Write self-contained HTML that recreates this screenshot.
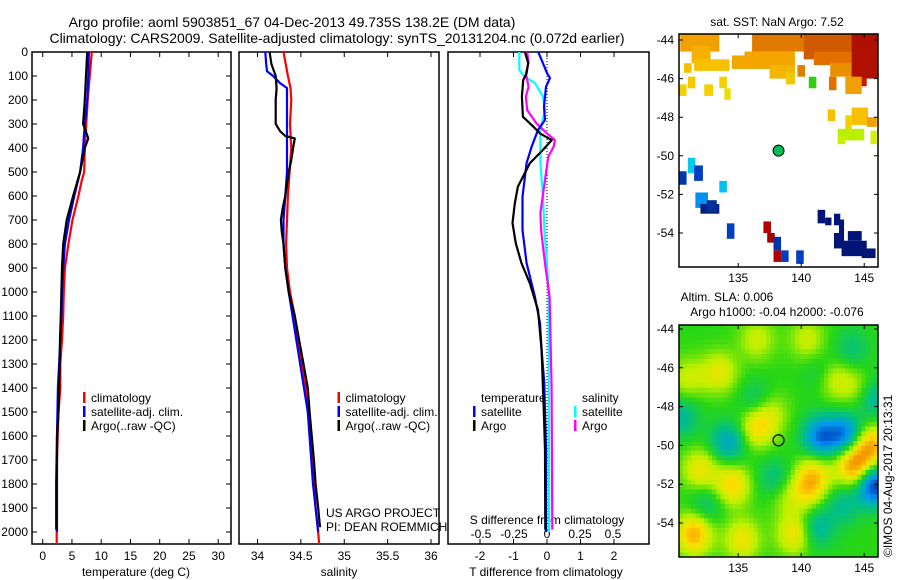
<!DOCTYPE html>
<html><head><meta charset="utf-8"><style>
html,body{margin:0;padding:0;background:#fff;}
svg{display:block;font-family:"Liberation Sans",sans-serif;}
</style></head><body>
<svg id="c" width="900" height="580" viewBox="0 0 900 580" xmlns="http://www.w3.org/2000/svg">
<text x="292" y="27" font-size="14" text-anchor="middle">Argo profile: aoml 5903851_67 04-Dec-2013 49.735S 138.2E (DM data)</text>
<text x="337" y="43" font-size="14" text-anchor="middle">Climatology: CARS2009. Satellite-adjusted climatology: synTS_20131204.nc (0.072d earlier)</text>
<text x="777" y="26" font-size="12" text-anchor="middle">sat. SST: NaN Argo: 7.52</text>
<text x="727" y="301" font-size="12" text-anchor="middle">Altim. SLA: 0.006</text>
<text x="777" y="316" font-size="12" text-anchor="middle">Argo h1000: -0.04 h2000: -0.076</text>
<text x="0" y="0" font-size="12" transform="translate(892,557) rotate(-90)">©IMOS 04-Aug-2017 20:13:31</text>
<text x="136" y="576" font-size="12" text-anchor="middle">temperature (deg C)</text>
<text x="339" y="576" font-size="12" text-anchor="middle">salinity</text>
<text x="546" y="576" font-size="12" text-anchor="middle">T difference from climatology</text>
<text x="547" y="524" font-size="12" text-anchor="middle">S difference from climatology</text>
<text x="326" y="517" font-size="12">US ARGO PROJECT</text>
<text x="326" y="531" font-size="12">PI: DEAN ROEMMICH</text>
</svg>
<script>
// ---- data: depths (m) ----
const tClimD=[0,200,400,500,533,600,700,800,900,1000,1100,1200,1300,1400,1500,1700,2000,2050];
const tClimV=[8.4,7.7,7.2,7.1,6.7,6.1,5.1,4.4,3.8,3.6,3.5,3.3,3.0,3.0,2.7,2.45,2.4,2.4];
const tSatD=[0,100,200,300,400,500,600,700,800,900,1000,1100,1200,1400,1600,2000];
const tSatV=[7.9,7.8,7.6,7.2,6.9,6.4,5.4,4.5,3.8,3.5,3.3,3.2,3.0,2.6,2.45,2.45];
const tArgoD=[0,100,200,300,360,400,500,533,600,700,800,900,1000,1100,1200,1300,1500,1600,1800,1990];
const tArgoV=[7.6,7.4,7.2,6.9,7.8,7.2,6.4,6.0,5.2,4.1,3.5,3.3,3.2,3.1,2.95,2.9,2.7,2.45,2.3,2.3];
const sClimD=[0,100,150,200,300,400,500,600,700,800,900,1000,1100,1200,1300,1400,1500,1600,1700,1800,1900,2000,2050];
const sClimV=[34.30,34.35,34.38,34.39,34.375,34.39,34.37,34.35,34.34,34.33,34.34,34.375,34.43,34.47,34.51,34.56,34.59,34.62,34.64,34.65,34.67,34.70,34.71];
const sSatD=[0,50,80,100,130,150,200,300,500,600,700,800,900,1000,1500,1800,2000];
const sSatV=[34.09,34.10,34.11,34.18,34.26,34.34,34.34,34.34,34.34,34.32,34.30,34.30,34.32,34.36,34.58,34.64,34.70];
const sArgoD=[0,50,80,100,150,200,300,330,350,360,400,450,500,550,600,650,700,750,800,900,1000,1100,1200,1300,1400,1500,1700,1800,1900,1980];
const sArgoV=[34.14,34.16,34.19,34.21,34.22,34.21,34.21,34.26,34.32,34.43,34.41,34.39,34.36,34.34,34.32,34.29,34.27,34.28,34.30,34.32,34.36,34.43,34.48,34.53,34.58,34.60,34.65,34.67,34.70,34.72];
const dTSatD=[0,88,108,145,228,283,325,395,463,603,742,880,1020,1130,1242,1379,1658,2000];
const dTSatV=[-0.26,0,0.09,-0.03,-0.09,-0.06,-0.27,-0.46,-0.61,-0.73,-0.73,-0.61,-0.36,-0.21,-0.16,-0.08,-0.03,-0.03];
const dTArgoD=[0,46,88,117,186,270,311,339,367,408,463,561,631,713,797,880,964,1075,1242,1521,1658,1990];
const dTArgoV=[-0.66,-0.56,-0.61,-0.71,-0.75,-0.72,-0.41,-0.21,0.14,-0.12,-0.51,-0.87,-0.96,-1.03,-0.93,-0.76,-0.51,-0.27,-0.16,-0.09,-0.06,-0.05];
const dSSatD=[0,75,104,130,186,242,325,463,603,742,880,1020,2000];
const dSSatV=[-0.21,-0.21,-0.17,-0.09,-0.03,-0.015,-0.05,-0.05,-0.03,-0.02,0,0.013,0.015];
const dSArgoD=[0,46,88,145,186,242,297,339,367,395,436,533,672,742,880,1020,1400,1990];
const dSArgoV=[-0.15,-0.14,-0.16,-0.14,-0.16,-0.15,-0.08,0,0.06,0.05,0.01,-0.015,-0.05,-0.045,-0.015,0.02,0.035,0.04];
const depthTicks=[0,100,200,300,400,500,600,700,800,900,1000,1100,1200,1300,1400,1500,1600,1700,1800,1900,2000];
const tTicks=[0,5,10,15,20,25,30];
const sTicks=[34,34.5,35,35.5,36];
const dTTicks=[-2,-1,0,1,2];
const dSTicks=[-0.5,-0.25,0,0.25,0.5];
const dSTickLabels=["-0.5","-0.25","0","0.25","0.5"];
const latTicks=[-44,-46,-48,-50,-52,-54];
const lonTicks=[135,140,145];
const argoLon=138.2, argoLat=-49.735;
// SST patches: lon0, lon1, lat0, lat1, colour
const sstPatches=[
[130.4,133.5,-43.7,-44.6,'#f0a000'],[131.3,132.8,-44.3,-45.2,'#f5b000'],[131.5,134.3,-45.0,-45.6,'#f8c000'],
[130.7,131.3,-45.2,-45.7,'#f8c000'],[134.5,136.0,-44.8,-45.5,'#f0a800'],[136.1,143.8,-43.7,-44.6,'#e07a00'],
[140.2,144.5,-43.7,-45.0,'#d05a00'],[135.5,139.5,-44.6,-45.5,'#f5a500'],[137.5,139.5,-45.3,-46.0,'#f5b500'],
[138.8,139.5,-45.7,-46.3,'#f0c800'],[139.7,140.3,-45.3,-45.9,'#e08000'],[141.0,144.0,-44.6,-45.3,'#e07000'],
[142.3,144.3,-45.2,-45.9,'#e89000'],[144.0,146.1,-43.7,-46.0,'#b01000'],[144.6,145.2,-46.0,-46.4,'#c02000'],
[140.6,141.2,-45.9,-46.5,'#33cc11'],[142.2,142.8,-45.9,-46.6,'#e07000'],[143.5,144.8,-45.9,-46.8,'#f0a000'],
[131.0,131.6,-45.9,-46.5,'#f5c800'],[130.3,130.9,-46.3,-46.9,'#f5d000'],[132.3,133.0,-46.3,-46.9,'#f5d000'],
[133.5,134.1,-45.9,-46.5,'#f5d000'],[133.9,134.4,-46.5,-47.1,'#e8e000'],[142.1,142.7,-47.6,-48.2,'#f5c000'],
[144.0,145.3,-47.5,-48.4,'#f8c000'],[143.5,144.0,-47.9,-48.7,'#f5d000'],[145.2,146.0,-48.0,-48.5,'#f0a000'],
[142.9,145.0,-48.6,-49.2,'#b8f000'],[142.9,143.5,-49.0,-49.4,'#c8f000'],[145.5,146.0,-48.7,-49.4,'#d8f000'],
[131.0,131.6,-50.1,-50.9,'#00ccf0'],[131.5,132.2,-50.5,-51.3,'#0040c0'],[130.3,130.9,-50.8,-51.5,'#0038b0'],
[133.5,134.1,-51.3,-51.9,'#00c0f0'],[131.6,132.6,-51.9,-52.7,'#0090f0'],[132.0,133.5,-52.5,-53.0,'#002088'],
[132.5,133.3,-52.3,-52.9,'#003399'],[134.1,134.7,-53.5,-54.3,'#0040c0'],[137.0,137.6,-53.4,-54.0,'#b00000'],
[137.3,137.9,-54.0,-54.5,'#a80000'],[137.8,138.4,-54.9,-55.5,'#b00000'],[137.8,138.4,-54.2,-54.9,'#0033aa'],
[138.4,139.0,-54.9,-55.5,'#0040c0'],[139.6,140.2,-54.9,-55.6,'#0040c0'],[141.3,141.9,-52.8,-53.5,'#001577'],
[141.9,142.4,-53.2,-53.6,'#001577'],[142.6,143.1,-53.0,-53.6,'#001577'],[143.0,143.4,-53.3,-54.0,'#001577'],
[142.6,143.4,-54.0,-54.8,'#001577'],[143.2,145.2,-54.4,-55.2,'#001577'],[143.7,144.8,-53.9,-54.4,'#001577'],
[144.8,145.9,-54.8,-55.3,'#001577']];
// SLA anomaly blobs: lon, lat, amplitude (m)
const slaLon=[131.5,135.3,139.5,134.5,132,136.5,137.5,144.2,145.5,141,142.5,133.5,131,136.5,140.5,144.5,140.5,138.8,141.5,143.5,134.2,145.8,145.8,130.5,141.8,136.5,138,141.2,143.3,132.5,144];
const slaLat=[-54.5,-54.8,-54.5,-52,-51.2,-49,-48.2,-51,-50,-51.5,-46.5,-46.2,-46.5,-44.5,-44.5,-47,-52.3,-52.5,-49.5,-49.4,-49.8,-52,-47.5,-48.5,-46.3,-47.7,-51.7,-54.2,-53,-53,-45];
const slaAmp=[0.28,0.18,0.2,0.22,0.18,0.2,0.12,0.33,0.28,0.2,0.18,0.16,0.12,0.12,0.12,0.1,0.14,0.1,-0.28,-0.28,-0.2,-0.38,-0.16,-0.14,-0.12,-0.12,-0.13,-0.16,-0.12,-0.11,-0.1];

const NS='http://www.w3.org/2000/svg';
const svg=document.getElementById('c');
function mk(tag,attrs,parent){const e=document.createElementNS(NS,tag);for(const k in attrs)e.setAttribute(k,attrs[k]);(parent||svg).appendChild(e);return e;}
const yD=d=>52+d*0.24;
const xT=t=>42.7+t*5.85;
const xS=s=>257.5+(s-34)*86.75;
const xDT=v=>547+v*33.5;
const xDS=v=>547+v*132;
const PY0=52, PY1=544;
const panels=[[32,231],[239,439],[448,649]];
panels.forEach((p,i)=>{
  const r=mk('rect',{x:p[0],y:PY0,width:p[1]-p[0],height:PY1-PY0,fill:'none',stroke:'#000','stroke-width':1.5});
  
  
});
depthTicks.forEach(d=>{
  const y=yD(d);
  const t=mk('path',{d:`M32 ${y}h5M231 ${y}h-5`,stroke:'#000','stroke-width':1});
  
  
  const l=mk('text',{x:28,y:y+4,'font-size':12,'text-anchor':'end'});
  l.textContent=d;
  
  
});
function xticks(vals,labels,fx,ly){
  vals.forEach((v,i)=>{
    const x=fx(v);
    const t=mk('path',{d:`M${x} ${PY0}v5M${x} ${PY1}v-5`,stroke:'#000','stroke-width':1});
    
    
    if(ly){const l=mk('text',{x:x,y:ly,'font-size':12,'text-anchor':'middle'});
    l.textContent=labels[i];
    
    }
  });
}
xticks(tTicks,tTicks,xT,560);
xticks(sTicks,sTicks,xS,560);
xticks(dTTicks,dTTicks,xDT,560);
dSTicks.forEach((v,i)=>{const l=mk('text',{x:xDS(v),y:538,'font-size':12,'text-anchor':'middle'});
  l.textContent=dSTickLabels[i];
  
  });
const z=mk('line',{x1:xDT(0),x2:xDT(0),y1:yD(0),y2:yD(2000),stroke:'#000','stroke-width':1,'stroke-dasharray':'1,2'});


function line(D,V,fx,col,name,w){
  const pts=D.map((d,i)=>fx(V[i]).toFixed(1)+','+yD(d).toFixed(1)).join(' ');
  const e=mk('polyline',{points:pts,fill:'none',stroke:col,'stroke-width':w||2.2,'stroke-linejoin':'round'});
  
  
}
line(tClimD,tClimV,xT,'#ff0000','temp-climatology-line');
line(tSatD,tSatV,xT,'#0000ff','temp-satellite-line');
line(tArgoD,tArgoV,xT,'#000000','temp-argo-line');
line(sClimD,sClimV,xS,'#ff0000','sal-climatology-line');
line(sSatD,sSatV,xS,'#0000ff','sal-satellite-line');
line(sArgoD,sArgoV,xS,'#000000','sal-argo-line');
line(dSSatD,dSSatV,xDS,'#00ffff','s-diff-satellite-line');
line(dSArgoD,dSArgoV,xDS,'#ff00ff','s-diff-argo-line');
line(dTSatD,dTSatV,xDT,'#0000ff','t-diff-satellite-line');
line(dTArgoD,dTArgoV,xDT,'#000000','t-diff-argo-line');
function legend(x,y,col,txt){
  const m=mk('rect',{x:x,y:y-10,width:2.5,height:11,fill:col});
  
  
  const t=mk('text',{x:x+8,y:y,'font-size':12});
  t.textContent=txt;
  
  
}
[[83],[337.5]].forEach(([x])=>{
  legend(x,402,'#ff0000','climatology');
  legend(x,416,'#0000ff','satellite-adj. clim.');
  legend(x,430,'#000000','Argo(..raw -QC)');
});
{const t=mk('text',{x:481,y:402,'font-size':12});t.textContent='temperature';


const s=mk('text',{x:582,y:402,'font-size':12});s.textContent='salinity';

}
legend(473,416,'#0000ff','satellite');
legend(473,430,'#000000','Argo');
legend(574,416,'#00ffff','satellite');
legend(574,430,'#ff00ff','Argo');
const MX0=679,MX1=878;
const xL=lon=>679+(lon-130.3)*12.6;
function mapFrame(y0,y1,latY,name){
  const r=mk('rect',{x:MX0,y:y0,width:MX1-MX0,height:y1-y0,fill:'none',stroke:'#000','stroke-width':1.5});
  
  
  latTicks.forEach(la=>{const y=latY(la);
    const t=mk('path',{d:`M${MX0} ${y}h4M${MX1} ${y}h-4`,stroke:'#000'});
    
    
    const l=mk('text',{x:674,y:y+4,'font-size':12,'text-anchor':'end'});l.textContent=la;
    
    });
  lonTicks.forEach(lo=>{const x=xL(lo);
    const t=mk('path',{d:`M${x} ${y0}v4M${x} ${y1}v-4`,stroke:'#000'});
    
    
    const l=mk('text',{x:x,y:y1+15,'font-size':12,'text-anchor':'middle'});l.textContent=lo;
    
    });
}
const yA=la=>40+(-44-la)*19.3;
const yB=la=>329+(-44-la)*19.4;
const gA=mk('g',{});


sstPatches.forEach(p=>{
  const r=mk('rect',{x:xL(p[0]),y:yA(p[2]),width:(p[1]-p[0])*12.6,height:(p[2]-p[3])*19.3,fill:p[4]},gA);
  
  
});
mapFrame(34,267,yA,'sst-map');
{const c1=mk('circle',{cx:xL(argoLon),cy:yA(argoLat),r:5.5,fill:'#00bb55',stroke:'#000','stroke-width':1});

}
function slaCol(v){
  const stops=[[-0.4,[0,30,170]],[-0.25,[0,150,240]],[-0.12,[0,190,140]],[0,[40,215,20]],[0.1,[190,240,0]],[0.2,[250,225,0]],[0.32,[245,150,0]],[0.45,[220,80,0]]];
  if(v<=stops[0][0])return 'rgb('+stops[0][1]+')';
  for(let i=1;i<stops.length;i++){if(v<=stops[i][0]){const a=stops[i-1],b=stops[i],f=(v-a[0])/(b[0]-a[0]);
    return 'rgb('+a[1].map((c,k)=>Math.round(c+(b[1][k]-c)*f)).join(',')+')';}}
  return 'rgb('+stops[stops.length-1][1]+')';
}
const gB=mk('g',{});


const NX=48,NY=48,lon0=130.3,lon1=146.1,la0=-43.75,la1=-55.7;
for(let j=0;j<NY;j++)for(let i=0;i<NX;i++){
  const lo=lon0+(i+0.5)*(lon1-lon0)/NX, la=la0+(j+0.5)*(la1-la0)/NY;
  let v=0;
  for(let k=0;k<slaLon.length;k++){const dx=(lo-slaLon[k])/1.0,dy=(la-slaLat[k])/0.75;v+=slaAmp[k]*Math.exp(-(dx*dx+dy*dy)/2);}
  const x=MX0+i*(MX1-MX0)/NX,y=325+j*(557-325)/NY;
  const r=mk('rect',{x:x.toFixed(2),y:y.toFixed(2),width:((MX1-MX0)/NX+0.5).toFixed(2),height:((557-325)/NY+0.5).toFixed(2),fill:slaCol(v)},gB);
  
  
}
mapFrame(325,557,yB,'sla-map');
{const c2=mk('circle',{cx:xL(argoLon),cy:yB(argoLat),r:5.5,fill:'none',stroke:'#000','stroke-width':1.2});

}
</script>
</body></html>
